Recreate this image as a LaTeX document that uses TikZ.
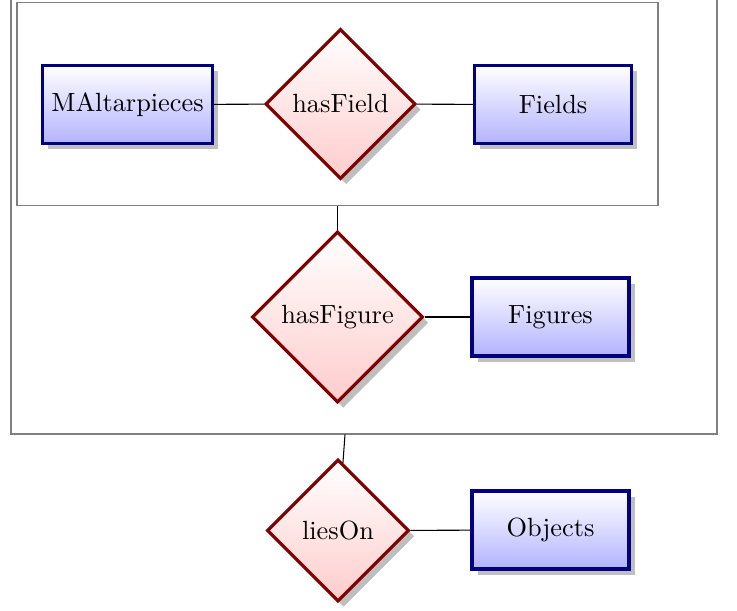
\documentclass[tikz,border=0pt]{standalone}
\usetikzlibrary{shapes.geometric,shadows}
\tikzset{
  entity/.style={rectangle, draw=blue!50!black, very thick,
    top color=white, bottom color=blue!30, drop shadow,
    minimum width=59.7pt, minimum height=29.6pt},
  relation/.style={diamond, aspect=1, draw=red!50!black, very thick,
    top color=white, bottom color=red!20, drop shadow},
  frame/.style={rectangle, draw=gray, thin, inner sep=0pt},
  link/.style={draw=black, thin}
}
\begin{document}
\begin{tikzpicture}[x=0.38pt, y=-0.38pt]
\useasboundingbox (0,0) rectangle (737,610);
\clip (0,0) rectangle (737,610);

% grouping frames
\node[frame, minimum width=268.3pt, minimum height=197.6pt] (outer) at (364,174) {};
\node[frame, minimum width=243.6pt, minimum height=76.8pt] (inner) at (337.5,104) {};

% entities and relationships
\node[entity] (altar) at (127.5,104.5) {MAltarpieces};
\node[relation, minimum size=56.2pt] (hasfield) at (340.5,104) {hasField};
\node[entity] (fields) at (553,104.5) {Fields};

\node[relation, minimum size=64.6pt] (hasfigure) at (337.5,317) {hasFigure};
\node[entity] (figures) at (550.5,317) {Figures};

\node[relation, minimum size=54pt] (lieson) at (338,530.5) {liesOn};
\node[entity] (objects) at (550.5,530) {Objects};

% connectors
\draw[link] (altar) -- (hasfield);
\draw[link] (hasfield) -- (fields);
\draw[link] (inner) -- (hasfigure);
\draw[link] (hasfigure) -- (figures);
\draw[link] (outer) -- (lieson);
\draw[link] (lieson) -- (objects);
\end{tikzpicture}
\end{document}
